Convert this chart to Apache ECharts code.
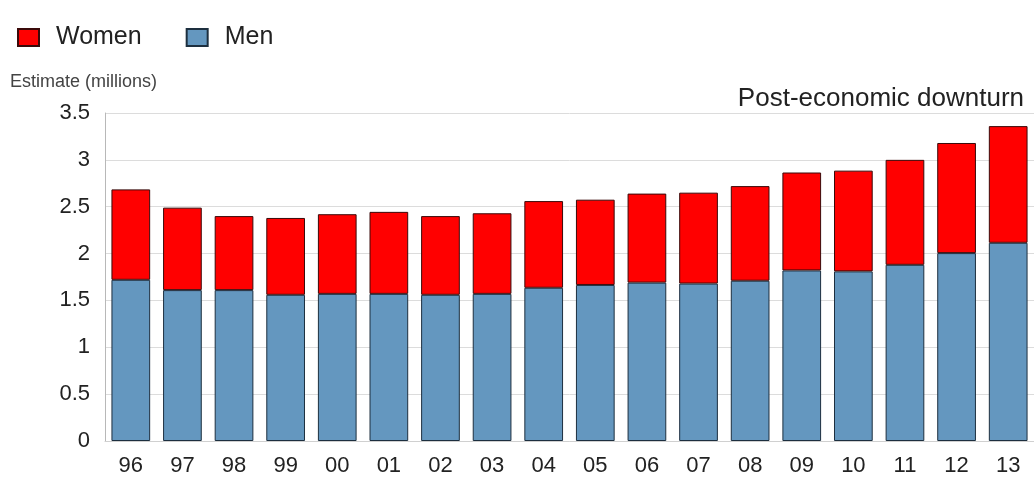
<!DOCTYPE html>
<html>
<head>
<meta charset="utf-8">
<script src="https://cdn.jsdelivr.net/npm/echarts@6/dist/echarts.min.js"></script>
<style>
  html, body { margin: 0; padding: 0; background: #fff; }
  #chart { width: 1034px; height: 477px; }
</style>
</head>
<body>
<div id="chart"></div>
<script>
const years = ['96', '97', '98', '99', '00', '01', '02', '03', '04', '05', '06', '07', '08', '09', '10', '11', '12', '13'];
const men = [1.72, 1.61, 1.61, 1.56, 1.57, 1.57, 1.56, 1.57, 1.635, 1.665, 1.69, 1.68, 1.71, 1.82, 1.81, 1.88, 2.005, 2.115];
const women = [0.965, 0.88, 0.79, 0.82, 0.85, 0.875, 0.84, 0.86, 0.925, 0.91, 0.95, 0.97, 1.01, 1.045, 1.075, 1.12, 1.175, 1.245];

const chart = echarts.init(document.getElementById('chart'));
const font = 'Liberation Sans, Arial, sans-serif';

chart.setOption({
  backgroundColor: '#fff',
  animation: false,
  textStyle: { fontFamily: font },
  legend: {
    data: ['Women', 'Men'],
    left: 12,
    top: 20,
    icon: 'rect',
    itemWidth: 21,
    itemHeight: 17,
    itemGap: 44,
    textStyle: { fontSize: 25, color: '#222', fontFamily: font, padding: [0, 0, 0, 12] }
  },
  title: [
    {
      text: 'Estimate (millions)',
      left: 5,
      top: 68,
      textStyle: { fontSize: 18, fontWeight: 'normal', color: '#444', fontFamily: font }
    },
    {
      text: 'Post-economic downturn',
      right: 5,
      top: 81,
      textStyle: { fontSize: 26, fontWeight: 'normal', color: '#222', fontFamily: font }
    }
  ],
  grid: {
    left: 105,
    right: 0,
    top: 113,
    bottom: 34
  },
  xAxis: {
    type: 'category',
    data: years,
    axisTick: { show: false },
    axisLine: { lineStyle: { color: '#d0d0d0' } },
    axisLabel: { fontSize: 22, color: '#222', margin: 14, fontFamily: font }
  },
  yAxis: {
    type: 'value',
    min: 0,
    max: 3.5,
    interval: 0.5,
    axisLine: { show: true, lineStyle: { color: '#b8b8b8' } },
    axisTick: { show: false },
    axisLabel: { fontSize: 22, color: '#222', margin: 15, fontFamily: font },
    splitLine: { lineStyle: { color: '#dcdcdc', width: 1 } }
  },
  series: [
    {
      name: 'Men',
      type: 'bar',
      stack: 'total',
      barCategoryGap: '25%',
      data: men,
      itemStyle: { color: '#6497bf', borderColor: '#1d2f3f', borderWidth: 1 }
    },
    {
      name: 'Women',
      type: 'bar',
      stack: 'total',
      barCategoryGap: '25%',
      data: women,
      itemStyle: { color: '#ff0000', borderColor: '#3a0a0a', borderWidth: 1 }
    }
  ]
});
</script>
</body>
</html>
